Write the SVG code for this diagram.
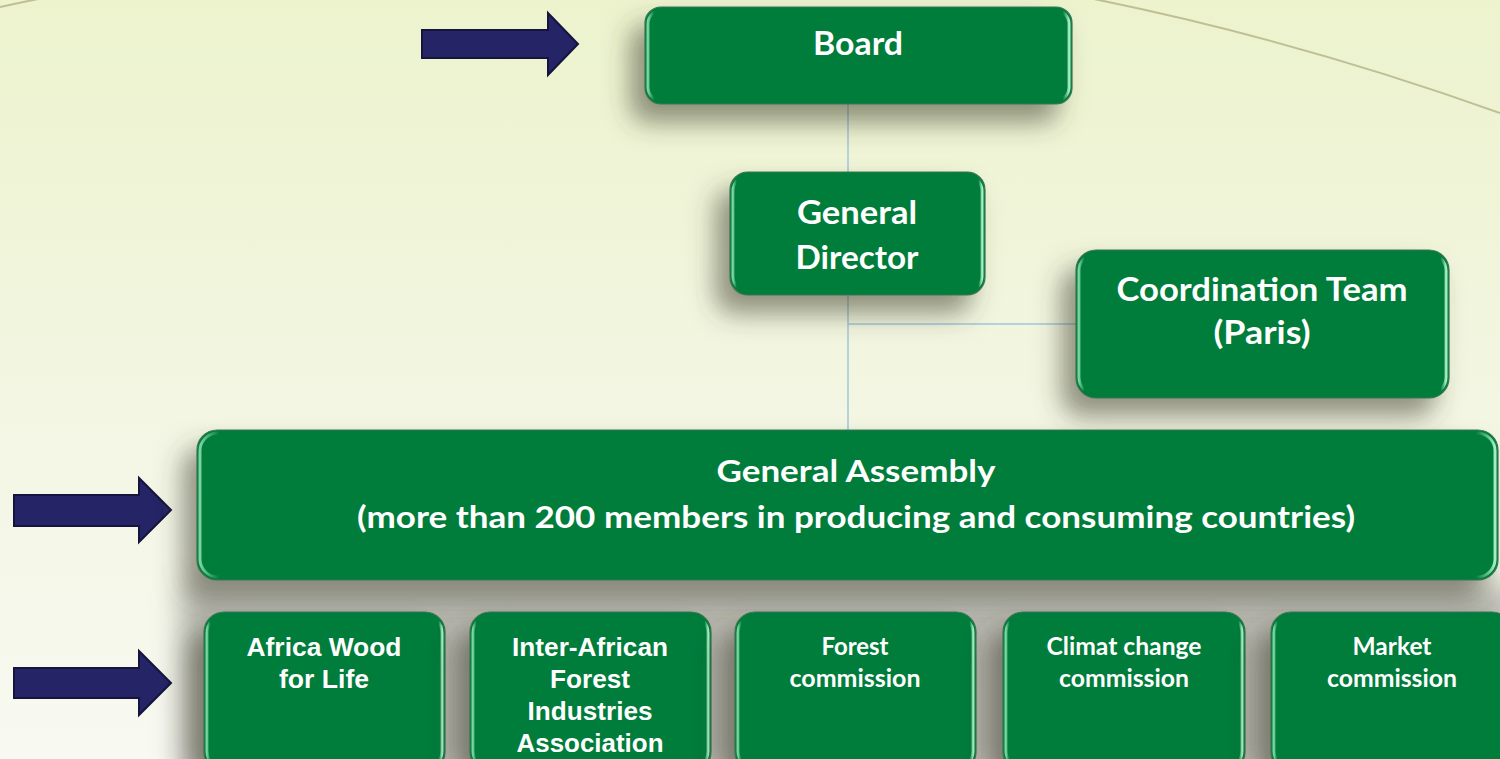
<svg xmlns="http://www.w3.org/2000/svg" width="1500" height="759" viewBox="0 0 1500 759">
  <defs>
    <linearGradient id="bg" x1="0" y1="0" x2="0" y2="1">
      <stop offset="0" stop-color="#ecf3cd"/>
      <stop offset="0.55" stop-color="#f3f6e3"/>
      <stop offset="1" stop-color="#f8f9f1"/>
    </linearGradient>
    <linearGradient id="gloss" x1="0" y1="0" x2="1" y2="0">
      <stop offset="0" stop-color="#8fe6b2" stop-opacity="0.85"/>
      <stop offset="0.015" stop-color="#8fe6b2" stop-opacity="0"/>
      <stop offset="0.985" stop-color="#8fe6b2" stop-opacity="0"/>
      <stop offset="1" stop-color="#a4efc4" stop-opacity="1"/>
    </linearGradient>
    <filter id="shadow" x="-25%" y="-40%" width="150%" height="200%">
      <feDropShadow dx="-14" dy="18" stdDeviation="13" flood-color="#3c3c30" flood-opacity="0.55"/>
    </filter>
    <filter id="blur" x="-20%" y="-50%" width="140%" height="200%">
      <feGaussianBlur stdDeviation="14"/>
    </filter>
    <style>
      .box { fill: #037b3b; stroke: #3a7650; stroke-width: 1.2; }
      .gl { fill: none; stroke: url(#gloss); stroke-width: 3; }
      .cal { font-family: Lato, "Open Sans", sans-serif; font-weight: bold; fill: #ffffff; text-anchor: middle; }
      .ari { font-family: "Liberation Sans", Arial, sans-serif; font-weight: bold; fill: #ffffff; text-anchor: middle; font-size: 26px; }
      .conn { stroke: #9fc6d8; stroke-width: 1.5; fill: none; }
      .arrow { fill: #242466; stroke: #14143c; stroke-width: 2; stroke-linejoin: miter; }
    </style>
  </defs>

  <rect x="0" y="0" width="1500" height="759" fill="url(#bg)"/>
  <path d="M0 7 Q750 -156 1500 113" fill="none" stroke="#bfbf93" stroke-width="2"/>

  <!-- shadow band under lower rows -->
  <rect x="180" y="585" width="1335" height="190" fill="#a9a9a2" opacity="0.8" filter="url(#blur)"/>

  <g id="connectors">
    <line class="conn" x1="848" y1="104" x2="848" y2="172"/>
    <line class="conn" x1="848" y1="295" x2="848" y2="430"/>
    <line class="conn" x1="848" y1="324" x2="1076" y2="324"/>
  </g>

  <g id="arrows">
    <polygon class="arrow" points="422,30 548,30 548,13 578,44 548,75 548,58 422,58"/>
    <polygon class="arrow" points="14,495 139,495 139,478 171,510 139,542 139,526 14,526"/>
    <polygon class="arrow" points="14,668 139,668 139,651 171,683 139,715 139,698 14,698"/>
  </g>

  <g id="board">
    <rect class="box" x="645" y="7" width="427" height="97" rx="16" filter="url(#shadow)"/>
    <rect class="gl" x="648" y="10" width="421" height="91" rx="14"/>
    <text class="cal" x="858" y="55" font-size="33" textLength="90" lengthAdjust="spacingAndGlyphs">Board</text>
  </g>

  <g id="general-director">
    <rect class="box" x="730" y="172" width="255" height="123" rx="18" filter="url(#shadow)"/>
    <rect class="gl" x="733" y="175" width="249" height="117" rx="16"/>
    <text class="cal" x="857" y="224" font-size="33" textLength="120" lengthAdjust="spacingAndGlyphs">General</text>
    <text class="cal" x="857" y="269" font-size="33" textLength="123" lengthAdjust="spacingAndGlyphs">Director</text>
  </g>

  <g id="coordination-team">
    <rect class="box" x="1076" y="250" width="373" height="148" rx="20" filter="url(#shadow)"/>
    <rect class="gl" x="1079" y="253" width="367" height="142" rx="18"/>
    <text class="cal" x="1262" y="301" font-size="32" textLength="291" lengthAdjust="spacingAndGlyphs">Coordination Team</text>
    <text class="cal" x="1262" y="344" font-size="32" textLength="97" lengthAdjust="spacingAndGlyphs">(Paris)</text>
  </g>

  <g id="general-assembly">
    <rect class="box" x="197" y="430" width="1301" height="150" rx="20" filter="url(#shadow)"/>
    <rect class="gl" x="200" y="433" width="1295" height="144" rx="18"/>
    <text class="cal" x="856" y="482" font-size="30" textLength="279" lengthAdjust="spacingAndGlyphs">General Assembly</text>
    <text class="cal" x="856" y="528" font-size="30" textLength="998" lengthAdjust="spacingAndGlyphs">(more than 200 members in producing and consuming countries)</text>
  </g>

  <g id="africa-wood-for-life">
    <rect class="box" x="204" y="612" width="241" height="160" rx="20" filter="url(#shadow)"/>
    <rect class="gl" x="207" y="615" width="235" height="154" rx="18"/>
    <text class="ari" x="324" y="656" textLength="155" lengthAdjust="spacingAndGlyphs">Africa Wood</text>
    <text class="ari" x="324" y="688" textLength="90" lengthAdjust="spacingAndGlyphs">for Life</text>
  </g>

  <g id="inter-african">
    <rect class="box" x="470" y="612" width="241" height="160" rx="20" filter="url(#shadow)"/>
    <rect class="gl" x="473" y="615" width="235" height="154" rx="18"/>
    <text class="ari" x="590" y="656" textLength="156" lengthAdjust="spacingAndGlyphs">Inter-African</text>
    <text class="ari" x="590" y="688" textLength="80" lengthAdjust="spacingAndGlyphs">Forest</text>
    <text class="ari" x="590" y="720" textLength="125" lengthAdjust="spacingAndGlyphs">Industries</text>
    <text class="ari" x="590" y="752" textLength="147" lengthAdjust="spacingAndGlyphs">Association</text>
  </g>

  <g id="forest-commission">
    <rect class="box" x="735" y="612" width="241" height="160" rx="20" filter="url(#shadow)"/>
    <rect class="gl" x="738" y="615" width="235" height="154" rx="18"/>
    <text class="cal" x="855" y="655" font-size="24" textLength="67" lengthAdjust="spacingAndGlyphs">Forest</text>
    <text class="cal" x="855" y="687" font-size="24" textLength="131" lengthAdjust="spacingAndGlyphs">commission</text>
  </g>

  <g id="climat-change-commission">
    <rect class="box" x="1003" y="612" width="242" height="160" rx="20" filter="url(#shadow)"/>
    <rect class="gl" x="1006" y="615" width="236" height="154" rx="18"/>
    <text class="cal" x="1124" y="655" font-size="24" textLength="155" lengthAdjust="spacingAndGlyphs">Climat change</text>
    <text class="cal" x="1124" y="687" font-size="24" textLength="130" lengthAdjust="spacingAndGlyphs">commission</text>
  </g>

  <g id="market-commission">
    <rect class="box" x="1271" y="612" width="241" height="160" rx="20" filter="url(#shadow)"/>
    <rect class="gl" x="1274" y="615" width="235" height="154" rx="18"/>
    <text class="cal" x="1392" y="655" font-size="24" textLength="79" lengthAdjust="spacingAndGlyphs">Market</text>
    <text class="cal" x="1392" y="687" font-size="24" textLength="130" lengthAdjust="spacingAndGlyphs">commission</text>
  </g>
</svg>
